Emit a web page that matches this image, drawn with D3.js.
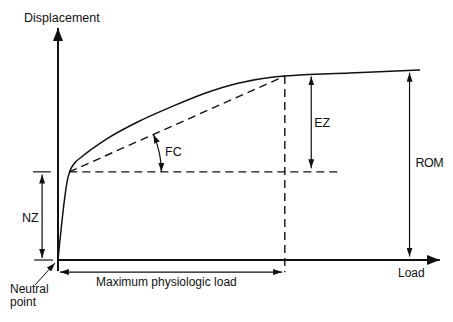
<!DOCTYPE html>
<html>
<head>
<meta charset="utf-8">
<script src="https://cdn.jsdelivr.net/npm/d3@7"></script>
<style>
  body { margin: 0; background: #fff; }
  svg { display: block; }
  text { font-family: "Liberation Sans", Arial, sans-serif; fill: #111; }
</style>
</head>
<body>
<svg id="chart" width="453" height="322"></svg>
<script>
// load / displacement in arbitrary units (0-100)
var curve = [
  [0, 0], [2.6, 35.3], [3.2, 38.6], [4.3, 41.6], [6.3, 44.5], [12.4, 51.7],
  [21.2, 59.6], [30.1, 66.1], [38.9, 71.9], [47.6, 76.2], [56.5, 78.8],
  [60, 79.3], [77.2, 80.6], [95.8, 81.9]
];
var knee = [3, 38];          // end of neutral zone
var maxLoad = 60;            // maximum physiologic load
var ezTop = 79.3;            // displacement at max load
var romTop = 81.9;           // full range of motion
var hLineEnd = 74;
var ezX = 67, romX = 93, nzX = -4.2;
var labels = ["Displacement", "Load", "Maximum physiologic load", "NZ", "EZ", "ROM", "FC", "Neutral", "point"];

var svg = d3.select("#chart");
var x = d3.scaleLinear().domain([0, 100]).range([58, 436]);
var y = d3.scaleLinear().domain([0, 100]).range([260, 28]);

var defs = svg.append("defs");
function marker(id, len, wid) {
  defs.append("marker")
    .attr("id", id)
    .attr("viewBox", "0 0 " + len + " " + wid)
    .attr("refX", len).attr("refY", wid / 2)
    .attr("markerWidth", len).attr("markerHeight", wid)
    .attr("markerUnits", "userSpaceOnUse")
    .attr("orient", "auto-start-reverse")
    .append("path")
    .attr("d", "M0,0L" + len + "," + (wid / 2) + "L0," + wid + "Z")
    .attr("fill", "#111");
}
marker("big", 13, 10);
marker("small", 9, 6);

// axes
svg.append("line")
  .attr("x1", x(0)).attr("y1", y(-4.7))
  .attr("x2", x(0)).attr("y2", y(100))
  .attr("stroke", "#111").attr("stroke-width", 2)
  .attr("marker-end", "url(#big)");
svg.append("line")
  .attr("x1", x(0) - 1).attr("y1", y(0))
  .attr("x2", x(101)).attr("y2", y(0))
  .attr("stroke", "#111").attr("stroke-width", 2)
  .attr("marker-end", "url(#big)");

// dashed construction lines
var dash = "8,5";
svg.append("line")
  .attr("x1", x(knee[0])).attr("y1", y(knee[1]))
  .attr("x2", x(hLineEnd)).attr("y2", y(knee[1]))
  .attr("stroke", "#111").attr("stroke-width", 1.4).attr("stroke-dasharray", dash);
svg.append("line")
  .attr("x1", x(knee[0])).attr("y1", y(knee[1]))
  .attr("x2", x(maxLoad)).attr("y2", y(ezTop))
  .attr("stroke", "#111").attr("stroke-width", 1.4).attr("stroke-dasharray", dash);
svg.append("line")
  .attr("x1", x(maxLoad)).attr("y1", y(ezTop))
  .attr("x2", x(maxLoad)).attr("y2", y(-5.3))
  .attr("stroke", "#111").attr("stroke-width", 1.4).attr("stroke-dasharray", dash);

// load-displacement curve
var line = d3.line()
  .x(d => x(d[0]))
  .y(d => y(d[1]))
  .curve(d3.curveMonotoneX);
svg.append("path")
  .datum(curve)
  .attr("d", line)
  .attr("fill", "none")
  .attr("stroke", "#111")
  .attr("stroke-width", 1.5);

// dimension arrows
function arrow(x1, y1, x2, y2) {
  svg.append("line")
    .attr("x1", x1).attr("y1", y1).attr("x2", x2).attr("y2", y2)
    .attr("stroke", "#111").attr("stroke-width", 1.2)
    .attr("marker-start", "url(#small)")
    .attr("marker-end", "url(#small)");
}
arrow(x(ezX), y(ezTop - 0.2), x(ezX), y(knee[1] + 1.6));
arrow(x(romX), y(romTop - 1.2), x(romX), y(1.5));
arrow(x(nzX), y(knee[1] - 1.2), x(nzX), y(0.9));
arrow(x(0.5), y(-5.2), x(maxLoad - 0.7), y(-5.2));

// NZ ticks
svg.append("line")
  .attr("x1", x(-6.6)).attr("x2", x(-1.9))
  .attr("y1", y(knee[1])).attr("y2", y(knee[1]))
  .attr("stroke", "#111").attr("stroke-width", 1.2);
svg.append("line")
  .attr("x1", x(-6.3)).attr("x2", x(-1.3))
  .attr("y1", y(0)).attr("y2", y(0))
  .attr("stroke", "#111").attr("stroke-width", 1.2);

// FC arc
var cx = x(knee[0]), cy = y(knee[1]);
var ang = Math.atan2(y(knee[1]) - y(ezTop), x(maxLoad) - x(knee[0]));
var r = 92;
svg.append("path")
  .attr("d", "M" + (cx + r * Math.cos(ang)) + "," + (cy - r * Math.sin(ang)) +
    "A" + r + "," + r + " 0 0 1 " + (cx + r) + "," + cy)
  .attr("fill", "none")
  .attr("stroke", "#111").attr("stroke-width", 1.2)
  .attr("marker-start", "url(#small)")
  .attr("marker-end", "url(#small)");

// neutral point pointer
svg.append("line")
  .attr("x1", 35).attr("y1", 285)
  .attr("x2", x(0) - 3).attr("y2", y(0) + 3)
  .attr("stroke", "#111").attr("stroke-width", 1)
  .attr("marker-end", "url(#small)");

// labels
svg.append("text").attr("x", 24).attr("y", 22).attr("font-size", 12.5).text(labels[0]);
svg.append("text").attr("x", 398).attr("y", 277).attr("font-size", 12).text(labels[1]);
svg.append("text").attr("x", 96).attr("y", 286).attr("font-size", 12).text(labels[2]);
svg.append("text").attr("x", 22).attr("y", 222).attr("font-size", 12.5).text(labels[3]);
svg.append("text").attr("x", x(ezX) + 3).attr("y", 127).attr("font-size", 12.5).text(labels[4]);
svg.append("text").attr("x", x(romX) + 6).attr("y", 167).attr("font-size", 12.5).attr("letter-spacing", -0.5).text(labels[5]);
svg.append("text").attr("x", 165).attr("y", 156).attr("font-size", 12.5).text(labels[6]);
svg.append("text").attr("x", 10).attr("y", 293).attr("font-size", 12).text(labels[7]);
svg.append("text").attr("x", 10).attr("y", 306).attr("font-size", 12).text(labels[8]);
</script>
</body>
</html>
